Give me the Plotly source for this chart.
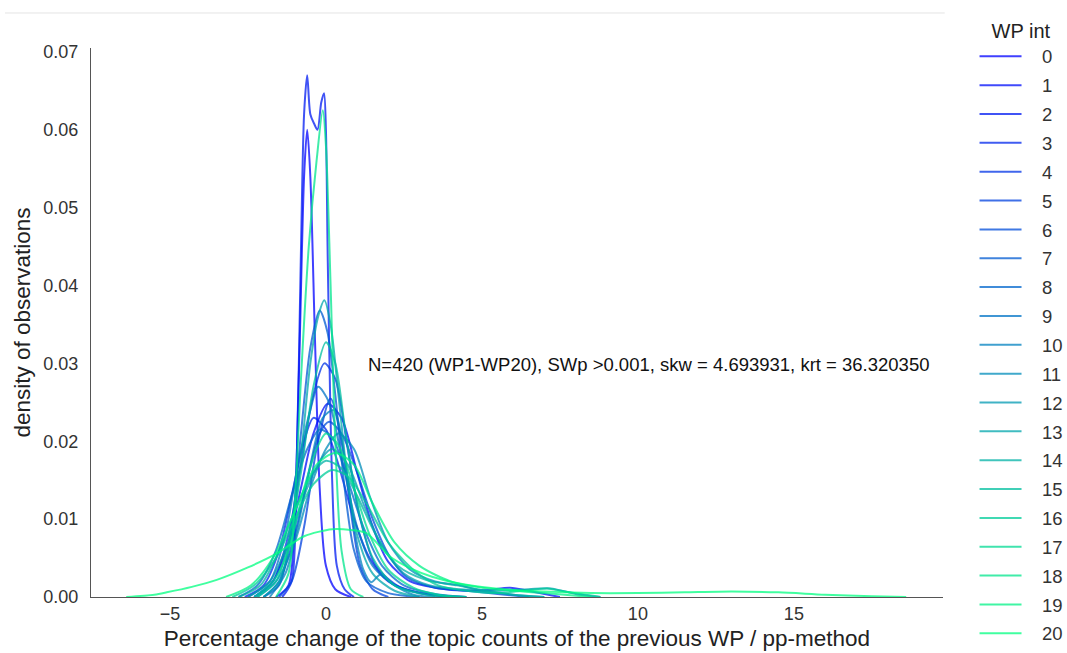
import plotly.graph_objects as go

# ---- data (x: percentage change, y: density) ----
wp_labels = [str(i) for i in range(21)]

x0 = [-1.6, -1.2, -1.0, -0.85, -0.7, -0.6, -0.5, -0.35, -0.2, 0.0, 0.3, 0.8]
y0 = [0.0, 0.0015, 0.011, 0.031, 0.054, 0.060, 0.054, 0.033, 0.014, 0.004, 0.001, 0.0]

x1 = [-2.3, -1.7, -1.2, -0.8, -0.4, 0.05, 0.5, 1.0, 1.5, 2.0, 2.7, 3.5, 4.5, 5.2, 5.9, 6.6, 7.5]
y1 = [0.0, 0.002, 0.007, 0.014, 0.021, 0.0248, 0.023, 0.016, 0.009, 0.0045, 0.002, 0.0012, 0.0008, 0.0009, 0.0012, 0.0007, 0.0]

x2 = [-1.4, -1.1, -0.95, -0.8, -0.7, -0.6, -0.5, -0.38, -0.27, -0.15, -0.06, 0.0, 0.06, 0.2, 0.35, 0.6, 0.9]
y2 = [0.0, 0.002, 0.015, 0.0445, 0.062, 0.067, 0.062, 0.0608, 0.060, 0.0635, 0.0647, 0.060, 0.043, 0.015, 0.004, 0.001, 0.0]

x3 = [-2.6, -2.0, -1.5, -1.1, -0.7, -0.4, 0.0, 0.4, 0.9, 1.4, 2.0, 3.0, 4.0]
y3 = [0.0, 0.0015, 0.006, 0.013, 0.020, 0.023, 0.0215, 0.017, 0.010, 0.005, 0.002, 0.0005, 0.0]

x4 = [-2.3, -1.7, -1.2, -0.8, -0.4, -0.05, 0.3, 0.7, 1.1, 1.6, 2.4, 3.5, 4.5]
y4 = [0.0, 0.002, 0.008, 0.017, 0.026, 0.030, 0.028, 0.019, 0.010, 0.004, 0.0012, 0.0002, 0.0]

x5 = [-1.5, -1.1, -0.7, -0.3, 0.15, 0.5, 0.8, 1.1, 1.5, 2.0]
y5 = [0.0, 0.002, 0.009, 0.019, 0.0255, 0.020, 0.011, 0.004, 0.001, 0.0]

x6 = [-2.0, -1.5, -1.0, -0.6, -0.2, 0.1, 0.5, 1.0, 1.5, 2.0, 2.6, 3.5, 4.5, 5.5, 6.5]
y6 = [0.0, 0.002, 0.008, 0.015, 0.021, 0.0225, 0.021, 0.016, 0.010, 0.0055, 0.0025, 0.0012, 0.0008, 0.0004, 0.0]

x7 = [-2.0, -1.5, -1.1, -0.8, -0.5, -0.2, 0.05, 0.3, 0.6, 0.9, 1.3, 2.0, 3.0]
y7 = [0.0, 0.0015, 0.009, 0.021, 0.032, 0.0368, 0.034, 0.026, 0.014, 0.006, 0.002, 0.0005, 0.0]

x8 = [-2.8, -2.2, -1.6, -1.1, -0.6, -0.2, 0.2, 0.7, 1.2, 1.8, 2.5, 3.5, 4.5]
y8 = [0.0, 0.0015, 0.006, 0.013, 0.019, 0.0215, 0.0205, 0.015, 0.009, 0.004, 0.0015, 0.0004, 0.0]

x9 = [-2.5, -1.8, -1.3, -0.9, -0.5, -0.25, 0.1, 0.5, 1.0, 1.5, 2.3, 3.5, 4.5]
y9 = [0.0, 0.002, 0.008, 0.017, 0.024, 0.027, 0.025, 0.018, 0.009, 0.004, 0.0013, 0.0003, 0.0]

x10 = [-1.8, -1.3, -0.9, -0.5, -0.1, 0.25, 0.6, 0.9, 1.2, 1.45, 1.75, 2.2, 2.8, 3.5]
y10 = [0.0, 0.003, 0.009, 0.017, 0.023, 0.024, 0.018, 0.009, 0.0035, 0.0019, 0.0029, 0.0015, 0.0003, 0.0]

x11 = [-2.2, -1.6, -1.0, -0.5, 0.0, 0.4, 0.9, 1.4, 2.0, 2.7, 3.5, 4.3, 5.0, 6.0, 7.0]
y11 = [0.0, 0.002, 0.007, 0.014, 0.019, 0.021, 0.019, 0.013, 0.007, 0.0035, 0.002, 0.0015, 0.0008, 0.0003, 0.0]

x12 = [-2.5, -1.8, -1.2, -0.6, -0.1, 0.2, 0.7, 1.2, 1.8, 2.5, 3.3, 4.3, 5.5, 6.5, 7.2, 8.0, 8.8]
y12 = [0.0, 0.002, 0.007, 0.014, 0.018, 0.019, 0.017, 0.012, 0.0065, 0.003, 0.0015, 0.001, 0.0008, 0.001, 0.0011, 0.0004, 0.0]

x13 = [-2.0, -1.5, -1.1, -0.8, -0.5, -0.25, -0.05, 0.15, 0.4, 0.7, 1.0, 1.5, 2.2, 3.0]
y13 = [0.0, 0.002, 0.008, 0.018, 0.030, 0.036, 0.0381, 0.035, 0.026, 0.015, 0.008, 0.003, 0.0008, 0.0]

x14 = [-2.8, -2.1, -1.5, -0.9, -0.4, 0.0, 0.5, 1.0, 1.6, 2.3, 3.2, 4.2, 5.0, 6.0, 7.0]
y14 = [0.0, 0.0015, 0.006, 0.012, 0.016, 0.0175, 0.0165, 0.013, 0.008, 0.004, 0.0022, 0.0015, 0.0009, 0.0003, 0.0]

x15 = [-2.2, -1.6, -1.2, -0.8, -0.4, 0.0, 0.3, 0.6, 1.0, 1.5, 2.2, 3.2, 4.0]
y15 = [0.0, 0.002, 0.007, 0.016, 0.027, 0.0327, 0.030, 0.022, 0.012, 0.005, 0.0015, 0.0003, 0.0]

x16 = [-3.0, -2.3, -1.6, -1.0, -0.4, 0.2, 0.7, 1.3, 2.0, 2.8, 3.6, 4.5, 5.5, 6.5, 7.1, 7.8, 8.8]
y16 = [0.0, 0.0015, 0.005, 0.010, 0.0145, 0.0163, 0.0155, 0.012, 0.007, 0.0035, 0.0015, 0.0008, 0.0005, 0.0009, 0.0011, 0.0006, 0.0]

x17 = [-2.3, -1.7, -1.2, -0.7, -0.3, 0.0, 0.4, 0.9, 1.4, 2.0, 2.8, 3.6, 4.5]
y17 = [0.0, 0.002, 0.006, 0.014, 0.019, 0.021, 0.0195, 0.014, 0.008, 0.0035, 0.0012, 0.0003, 0.0]

x18 = [-1.6, -1.2, -1.0, -0.8, -0.55, -0.3, -0.1, 0.0, 0.15, 0.3, 0.5, 0.8, 1.2]
y18 = [0.0, 0.003, 0.012, 0.028, 0.045, 0.056, 0.0625, 0.058, 0.040, 0.020, 0.006, 0.001, 0.0]

x19 = [-3.2, -2.4, -1.7, -1.0, -0.3, 0.3, 0.9, 1.5, 2.2, 3.0, 4.0, 5.0, 6.0, 7.0, 8.5]
y19 = [0.0, 0.0015, 0.005, 0.011, 0.017, 0.0185, 0.017, 0.012, 0.007, 0.004, 0.002, 0.0012, 0.0008, 0.0005, 0.0]

x20 = [-6.4, -5.5, -5.1, -4.3, -3.5, -2.5, -1.57, -0.7, 0.2, 0.8, 1.3, 2.05, 2.7, 3.4, 4.2, 5.0, 6.0, 7.0, 8.5, 10.0, 11.5, 13.0, 14.5, 16.0, 17.5, 18.6]
y20 = [0.0, 0.0003, 0.0006, 0.0013, 0.0022, 0.0038, 0.0056, 0.0078, 0.0087, 0.0086, 0.0082, 0.0052, 0.0037, 0.0026, 0.0018, 0.0013, 0.0009, 0.0007, 0.0005, 0.0005, 0.0006, 0.0007, 0.0006, 0.0003, 0.0001, 0.0]

curves_x = [x0, x1, x2, x3, x4, x5, x6, x7, x8, x9, x10, x11, x12, x13, x14, x15, x16, x17, x18, x19, x20]
curves_y = [y0, y1, y2, y3, y4, y5, y6, y7, y8, y9, y10, y11, y12, y13, y14, y15, y16, y17, y18, y19, y20]

x_ticks = [-5, 0, 5, 10, 15]
y_ticks = [0.00, 0.01, 0.02, 0.03, 0.04, 0.05, 0.06, 0.07]

annotation_text = "N=420 (WP1-WP20), SWp >0.001, skw = 4.693931, krt = 36.320350"

FONT = "Liberation Sans, Arial, Helvetica, sans-serif"
PAD = "\u00a0\u00a0\u00a0"


def winter(i, n=20, a=0.75):
    t = i / n
    return f"rgba(0,{round(255 * t)},{round(255 - 127.5 * t)},{a})"


fig = go.Figure()
for i in range(21):
    fig.add_trace(go.Scatter(
        x=curves_x[i], y=curves_y[i], mode="lines", name=PAD + wp_labels[i],
        legendgroup=wp_labels[i],
        line=dict(color=winter(i), width=2, shape="spline", smoothing=0.8),
        hoverinfo="skip",
    ))

fig.add_annotation(x=1.3, y=0.0298, text=annotation_text, showarrow=False,
                   xanchor="left", yanchor="middle",
                   font=dict(family=FONT, size=18.5, color="#111"))

# faint horizontal rule at the top of the picture
fig.add_shape(type="line", xref="paper", yref="paper", x0=-0.101, x1=1.002,
              y0=1.0638, y1=1.0638, line=dict(color="#e4e4e4", width=1))

fig.update_layout(
    width=1067, height=653,
    margin=dict(l=91, r=124, t=48, b=56, autoexpand=False),
    paper_bgcolor="white", plot_bgcolor="white",
    font=dict(family=FONT, color="#333"),
    showlegend=True,
    legend=dict(
        title=dict(text="WP int", font=dict(size=20, color="#222"), side="top center"),
        font=dict(size=18.5, color="#333"),
        x=1.037, xanchor="left", yref="container", y=0.982, yanchor="top",
        tracegroupgap=1.8, itemwidth=42, bgcolor="rgba(0,0,0,0)",
        maxheight=650,
    ),
    xaxis=dict(range=[-7.53, 19.78], tickvals=x_ticks,
               ticktext=["\u22125", "0", "5", "10", "15"],
               showgrid=False, zeroline=False, showline=True,
               linecolor="#555", linewidth=1.3, ticks="",
               tickfont=dict(size=18, color="#333"),
               title=dict(text="Percentage change of the topic counts of the previous WP / pp-method",
                          font=dict(size=22.5, color="#222"), standoff=7)),
    yaxis=dict(range=[0, 0.0705], tickvals=y_ticks,
               ticktext=[f"{v:.2f}" for v in y_ticks],
               showgrid=False, zeroline=False, showline=True,
               linecolor="#555", linewidth=1.3, ticks="",
               ticklabelstandoff=8,
               tickfont=dict(size=18, color="#333"),
               title=dict(text="density of observations",
                          font=dict(size=22.5, color="#222"), standoff=6)),
)

fig.write_html("out.html")
